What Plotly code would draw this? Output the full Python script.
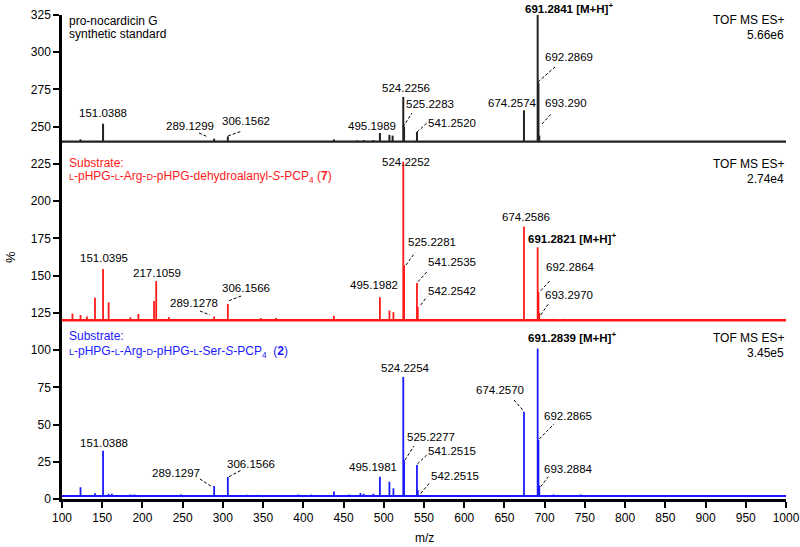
import plotly.graph_objects as go

# ---------------- data (m/z, apex value on the stacked % axis) ----------------
black_base = 240
black_mz = [123, 151.0388, 289.1299, 306.1562, 438, 467, 475, 487, 495.1989, 507, 511,
            524.2256, 525.2283, 541.2520, 674.2574, 691.2841, 692.2869, 693.290]
black_int = [241.5, 252, 242, 243.5, 241.5, 240.8, 241, 241, 245.8, 244.5, 244,
             270, 250, 246.5, 261, 325, 279.5, 244]

red_base = 120
red_mz = [113, 123, 131, 141, 151.0395, 158, 185, 195, 214.4, 217.1059, 233, 289.1278,
          306.1566, 347, 366, 438, 495.1982, 507, 512, 524.2252, 525.2281, 541.2535,
          542.2542, 674.2586, 691.2821, 692.2864, 693.2970, 712, 725]
red_int = [124.5, 123.5, 122.5, 135.2, 154.5, 132, 122, 124.2, 133, 146.4, 122, 122.5,
           131, 121.5, 121.5, 123, 135.4, 126.6, 125.5, 226.5, 157, 145,
           129, 183, 169, 139, 125, 121, 121]

blue_base = 2
blue_mz = [123, 141, 151.0388, 158, 162, 185, 190, 248, 289.1297, 306.1566, 330, 344,
           394, 410, 438, 457, 471, 475, 487, 495.1981, 507, 512, 524.2254, 525.2277,
           541.2515, 542.2515, 674.2570, 691.2839, 692.2865, 693.2884, 711, 745]
blue_int = [7.9, 3.8, 32.4, 3.5, 3.5, 3, 3, 3, 8.7, 14.8, 2.8, 2.8,
            3, 3, 5, 3, 4, 3.5, 3.5, 15, 11.6, 7.2, 82, 26,
            22.8, 6, 58.6, 101, 39.6, 9, 3, 3]

x_ticks = list(range(100, 1001, 50))
y_ticks = list(range(0, 326, 25))

# ---------------- label placement (text, x, y) ----------------
black_labels = [("151.0388", 151.0, 259.2), ("289.1299", 259.1, 250.5), ("306.1562", 328.7, 253.8),
                ("495.1989", 485.4, 250.5), ("524.2256", 527.6, 276.0), ("525.2283", 557.5, 265.2),
                ("541.2520", 585.4, 252.5), ("674.2574", 660.0, 265.9), ("692.2869", 730.3, 296.8),
                ("693.290", 726.5, 265.9)]
black_bold = ("691.2841 [M+H]<sup>+</sup>", 730.3, 329.7)
black_leaders = [(270.3, 245.8, 281.5, 243.1), (306.4, 243.8, 323.8, 247.1), (523.9, 249.8, 535.1, 259.2),
                 (541.3, 246.4, 553.7, 252.5), (691.7, 280.0, 712.8, 290.1), (696.7, 251.8, 709.1, 259.2)]

red_labels = [("524.2252", 527.6, 226.3), ("151.0395", 152.2, 161.8), ("217.1059", 218.7, 152.0),
              ("289.1278", 264.1, 131.8), ("306.1566", 328.7, 141.9), ("495.1982", 487.8, 143.7),
              ("525.2281", 559.6, 172.4), ("541.2535", 585.4, 159.1), ("542.2542", 585.4, 139.7),
              ("674.2586", 676.5, 189.2), ("692.2864", 731.5, 156.0), ("693.2970", 730.0, 137.0)]
red_bold = ("691.2821 [M+H]<sup>+</sup>", 733.6, 175.1)
red_leaders = [(271.5, 126.2, 284.0, 123.6), (307.6, 133.2, 323.8, 136.5), (527.6, 157.1, 538.8, 165.4),
               (542.5, 145.9, 553.7, 152.6), (545.9, 130.3, 553.7, 135.8), (695.1, 139.9, 706.6, 146.6),
               (695.1, 123.6, 704.5, 130.9)]

blue_labels = [("524.2254", 527.6, 88.2), ("151.0388", 152.2, 37.8), ("289.1297", 241.7, 17.7),
               ("306.1566", 334.7, 23.3), ("495.1981", 487.2, 21.6), ("674.2570", 643.9, 73.2),
               ("692.2865", 729.4, 55.9), ("525.2277", 558.7, 41.8), ("541.2515", 585.4, 32.2),
               ("542.2515", 588.3, 15.6), ("693.2884", 730.0, 20.1)]
blue_bold = ("691.2839 [M+H]<sup>+</sup>", 733.6, 108.6)
blue_leaders = [(271.5, 13.4, 286.1, 8.3), (307.6, 15.0, 323.4, 19.5), (661.9, 66.5, 673.5, 59.3),
                (693.3, 40.3, 711.6, 50.4), (526.4, 26.2, 537.6, 35.6), (541.7, 23.5, 553.4, 29.5),
                (545.9, 3.8, 556.6, 10.5), (695.1, 8.3, 704.5, 15.0)]

RED = "#ff1a1a"
BLUE = "#1a1aff"
FONT = "Liberation Sans, Arial, sans-serif"
Y_MAX = 325

fig = go.Figure()


def add_spectrum(mz, inten, base, color, base_width, peak_width):
    fig.add_trace(go.Scatter(x=[100, 1000], y=[base, base], mode="lines",
                             line=dict(color=color, width=base_width), hoverinfo="skip",
                             showlegend=False))
    xs, ys = [], []
    for m, v in zip(mz, inten):
        xs += [m, m, None]
        ys += [base, v, None]
    fig.add_trace(go.Scatter(x=xs, y=ys, mode="lines", line=dict(color=color, width=peak_width),
                             showlegend=False, hoverinfo="skip"))


add_spectrum(black_mz, black_int, black_base, "#222222", 2.2, 2)
add_spectrum(red_mz, red_int, red_base, RED, 2.5, 1.8)
add_spectrum(blue_mz, blue_int, blue_base, BLUE, 1.8, 1.8)

ann = []
shapes = []
for labels, bold, leaders in [(black_labels, black_bold, black_leaders),
                              (red_labels, red_bold, red_leaders),
                              (blue_labels, blue_bold, blue_leaders)]:
    for t, x, y in labels:
        ann.append(dict(text=t, x=x, y=y, xref="x", yref="y", showarrow=False,
                        xanchor="center", yanchor="middle",
                        font=dict(size=11.5, color="black", family=FONT)))
    t, x, y = bold
    # paper reference so that labels above the axis range are still drawn
    ann.append(dict(text="<b>" + t + "</b>", x=x, y=y / Y_MAX, xref="x", yref="paper",
                    showarrow=False, xanchor="center", yanchor="middle",
                    font=dict(size=11.5, color="black", family=FONT)))
    for x0, y0, x1, y1 in leaders:
        shapes.append(dict(type="line", x0=x0, y0=y0, x1=x1, y1=y1, xref="x", yref="y",
                           line=dict(color="black", width=1, dash="3px,2px")))

# right-hand TOF labels
for y1, y2, scale in [(321.7, 311.6, "5.66e6"), (225.0, 214.7, "2.74e4"), (107.9, 97.8, "3.45e5")]:
    ann.append(dict(text="TOF MS ES+", x=1, y=y1, xref="paper", yref="y", showarrow=False,
                    xanchor="right", yanchor="middle", font=dict(size=12, color="black", family=FONT)))
    ann.append(dict(text=scale, x=1, y=y2, xref="paper", yref="y", showarrow=False,
                    xanchor="right", yanchor="middle", font=dict(size=12, color="black", family=FONT)))

sm = "<span style='font-size:9px'>%s</span>"
titles = [
    ("pro-nocardicin G", 321.0, "black"),
    ("synthetic standard", 312.3, "black"),
    ("Substrate:", 225.6, RED),
    (sm % "L" + "-pHPG-" + sm % "L" + "-Arg-" + sm % "D" +
     "-pHPG-dehydroalanyl-<i>S</i>-PCP<sub>4</sub> (<b>7</b>)", 216.2, RED),
    ("Substrate:", 109.7, BLUE),
    (sm % "L" + "-pHPG-" + sm % "L" + "-Arg-" + sm % "D" + "-pHPG-" + sm % "L" +
     "-Ser-<i>S</i>-PCP<sub>4</sub>  (<b>2</b>)", 98.5, BLUE),
]
for t, y, c in titles:
    ann.append(dict(text=t, x=106.2, y=y, xref="x", yref="y", showarrow=False,
                    xanchor="left", yanchor="middle", font=dict(size=12, color=c, family=FONT)))

# axis titles
ann.append(dict(text="m/z", x=0.5, y=-0.0806, xref="paper", yref="paper", showarrow=False,
                xanchor="center", yanchor="middle", font=dict(size=12, color="black", family=FONT)))
ann.append(dict(text="%", x=-0.0718, y=0.5, xref="paper", yref="paper", showarrow=False,
                xanchor="center", yanchor="middle", textangle=-90,
                font=dict(size=13, color="black", family=FONT)))

fig.update_layout(
    template="none",
    width=800, height=547,
    margin=dict(l=62, r=14, t=15, b=48, autoexpand=False),
    plot_bgcolor="white", paper_bgcolor="white",
    font=dict(family=FONT, size=12, color="black"),
    annotations=ann, shapes=shapes,
    xaxis=dict(range=[100, 1000], tickvals=x_ticks, ticktext=[str(v) for v in x_ticks],
               automargin=False,
               showgrid=False, zeroline=False, showline=True, linecolor="black", linewidth=2.5,
               ticks="outside", ticklen=6, tickwidth=2, tickcolor="black",
               tickfont=dict(size=12, family=FONT, color="black")),
    yaxis=dict(range=[0, Y_MAX], tickvals=y_ticks, ticktext=[str(v) for v in y_ticks],
               automargin=False,
               showgrid=False, zeroline=False, showline=True, linecolor="black", linewidth=2.5,
               ticks="outside", ticklen=6, tickwidth=2, tickcolor="black",
               tickfont=dict(size=12, family=FONT, color="black")),
)

fig.write_html("out.html", config={"displayModeBar": False},
               post_script="document.body.style.margin='0';")
